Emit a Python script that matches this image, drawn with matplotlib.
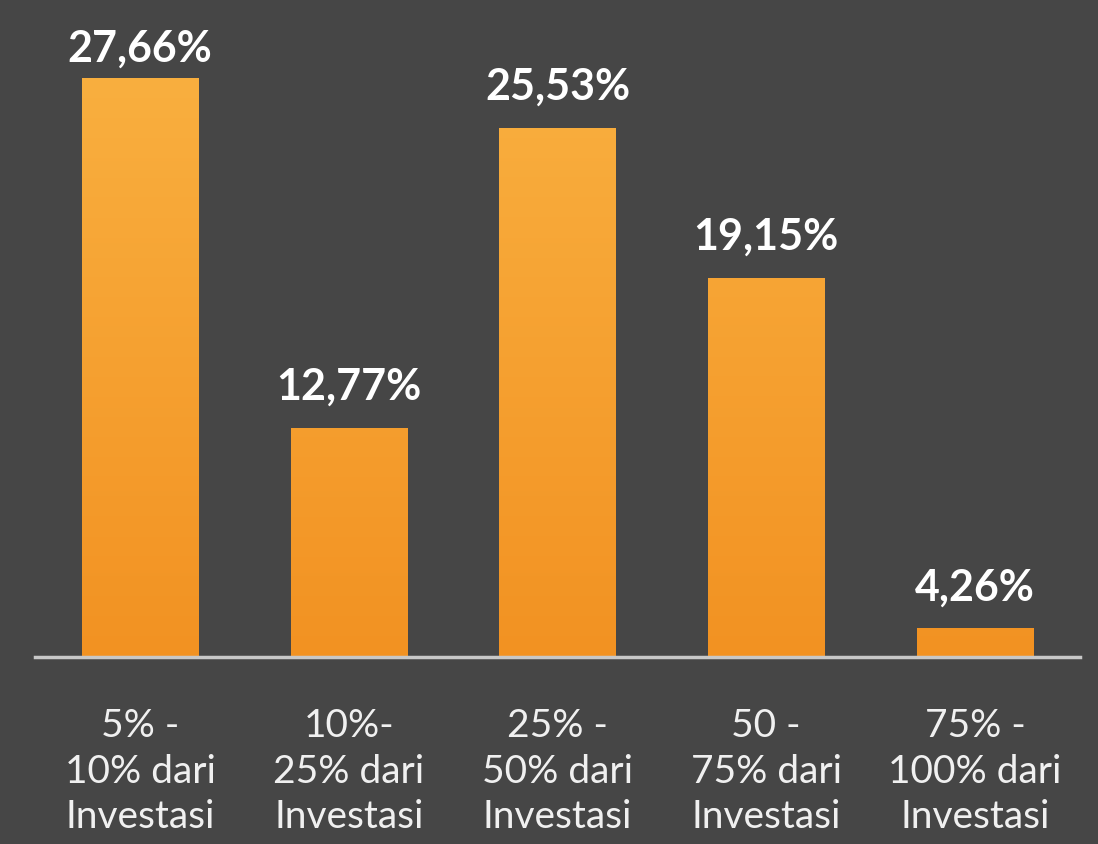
import matplotlib
matplotlib.use("Agg")
import matplotlib.pyplot as plt
import numpy as np
from matplotlib.colors import LinearSegmentedColormap

categories = ["5% -\n10% dari\nInvestasi", "10%-\n25% dari\nInvestasi",
              "25% -\n50% dari\nInvestasi", "50 -\n75% dari\nInvestasi",
              "75% -\n100% dari\nInvestasi"]
values = [27.66, 12.77, 25.53, 19.15, 4.26]
value_labels = ["27,66%", "12,77%", "25,53%", "19,15%", "4,26%"]

BG = "#464646"
W, H = 1098, 844
fig = plt.figure(figsize=(W / 100, H / 100), dpi=100, facecolor=BG)
ax = fig.add_axes([35 / W, (H - 657) / H, (1080 - 35) / W, 657 / H])
ax.set_facecolor(BG)

y0, y1 = 3.04, 3.04 + 657 / 23.53
x = np.arange(len(values))
bars = ax.bar(x, values, width=0.556, bottom=0, color="#F5A030", zorder=2)

grad = np.linspace(0, 1, 256).reshape(-1, 1)
cmap = LinearSegmentedColormap.from_list("g", ["#F29222", "#F9AF3F"])
vmax = max(values)
for b in bars:
    bx, bw = b.get_x(), b.get_width()
    im = ax.imshow(grad, cmap=cmap, origin="lower", aspect="auto",
                   extent=[bx, bx + bw, y0, vmax], zorder=3)
    im.set_clip_path(b)
ax.set_xlim(-0.503, 4.503)
ax.set_ylim(y0, y1)

font = "Lato"
px = 1 / 23.53
for xi, v, lab in zip(x, values, value_labels):
    ty = min(v + 28 * px, y1 - 62 * px)
    ax.text(xi, ty, lab, ha="center", va="baseline", color="white",
            fontsize=31, fontweight="bold", family=font, zorder=4)

for s in ["top", "right", "left"]:
    ax.spines[s].set_visible(False)
ax.spines["bottom"].set_color("#C8C8C8")
ax.spines["bottom"].set_linewidth(2.5)
ax.spines["bottom"].set_zorder(5)
ax.set_yticks([])
ax.set_xticks([])

for xi, c in zip(x, categories):
    fx = (35 + (xi + 0.503) / 5.006 * (1080 - 35)) / W
    fig.text(fx, 1 - 708 / H, c, ha="center", va="top", color="#F0F0F0",
             fontsize=28, family=font, linespacing=1.33)

fig.savefig("out.png", dpi=100, facecolor=BG)
